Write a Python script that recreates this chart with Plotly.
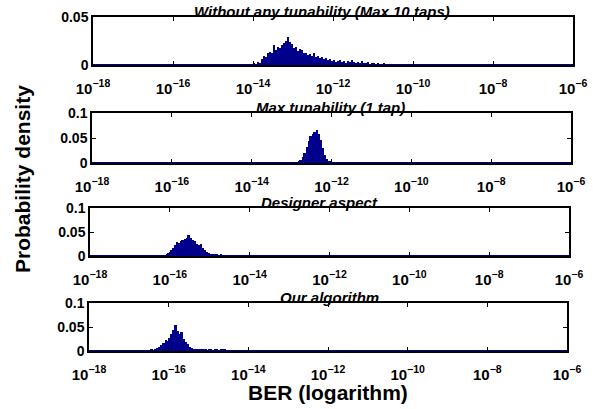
import plotly.graph_objects as go

W, H = 599, 409
BIN = 0.05  # bin width in decades of BER

# ---- data (log10 BER bin starts, densities) ----
p1_start = -14.20
p1_vals = [0.0005, 0.001, 0.0, 0.001, 0.002, 0.001, 0.003, 0.002, 0.006, 0.009,
           0.008, 0.013, 0.014, 0.012, 0.021, 0.016, 0.019, 0.018, 0.021, 0.023,
           0.025, 0.029, 0.024, 0.022, 0.018, 0.019, 0.015, 0.017, 0.016, 0.012,
           0.013, 0.010, 0.011, 0.009, 0.012, 0.008, 0.009, 0.007, 0.008, 0.006,
           0.007, 0.005, 0.006, 0.004, 0.005, 0.003, 0.004, 0.005, 0.003, 0.004,
           0.002, 0.004, 0.003, 0.005, 0.003, 0.002, 0.003, 0.002, 0.004, 0.002,
           0.002, 0.003, 0.001, 0.002, 0.002, 0.001, 0.002, 0.001, 0.001, 0.002,
           0.001, 0.001, 0.001]
p1_tail_exp = [-10.40, -10.25, -10.10, -9.90, -9.75, -9.55, -9.35, -9.10, -8.85,
               -8.60, -8.30, -8.05, -7.75, -7.45, -7.20]
p1_tail_val = [0.001, 0.0007, 0.001, 0.0007, 0.0006, 0.0006, 0.0005, 0.0006, 0.0005,
               0.0005, 0.0005, 0.0004, 0.0005, 0.0004, 0.0004]

p2_start = -12.90
p2_vals = [0.002, 0.003, 0.006, 0.012, 0.020, 0.032, 0.045, 0.055, 0.058, 0.062,
           0.066, 0.058, 0.046, 0.030, 0.016, 0.008, 0.004, 0.003, 0.001, 0.002,
           0.0, 0.001, 0.002]

p3_start = -16.10
p3_vals = [0.003, 0.006, 0.012, 0.016, 0.022, 0.030, 0.027, 0.032, 0.034, 0.036,
           0.038, 0.043, 0.037, 0.034, 0.031, 0.026, 0.022, 0.024, 0.016, 0.012,
           0.008, 0.006, 0.005, 0.004, 0.003, 0.004, 0.002, 0.003, 0.002, 0.001,
           0.002, 0.001, 0.001, 0.002, 0.001]
p3_tail_exp = [-14.00, -13.60]
p3_tail_val = [0.002, 0.0008]

p4_start = -16.50
p4_vals = [0.002, 0.003, 0.002, 0.004, 0.006, 0.008, 0.012, 0.016, 0.022, 0.020,
           0.027, 0.036, 0.044, 0.054, 0.042, 0.036, 0.040, 0.024, 0.018, 0.014,
           0.009, 0.007, 0.005, 0.004, 0.005, 0.003, 0.004, 0.003, 0.004, 0.002,
           0.003, 0.003, 0.002, 0.004, 0.003, 0.002, 0.003, 0.004, 0.003, 0.002,
           0.002, 0.001, 0.002, 0.002, 0.001, 0.002, 0.001, 0.001, 0.002, 0.001,
           0.001]
p4_tail_exp = [-13.80, -13.55, -13.30, -13.05, -12.80, -12.55, -12.30, -12.05,
               -11.80, -11.55, -11.30, -11.00, -10.70]
p4_tail_val = [0.0008, 0.001, 0.0006, 0.0008, 0.0006, 0.0007, 0.0005, 0.0006,
               0.0005, 0.0005, 0.0004, 0.0004, 0.0004]

titles = ["Without any tunability (Max 10 taps)", "Max tunability (1 tap)",
          "Designer aspect", "Our algorithm"]
y_max = [0.05, 0.1, 0.1, 0.1]
y_ticks = [[0, 0.05], [0, 0.05, 0.1], [0, 0.05, 0.1], [0, 0.05, 0.1]]
y_ticktext = [["0", "0.05"], ["0", "0.05", "0.1"], ["0", "0.05", "0.1"], ["0", "0.05", "0.1"]]
x_tickvals = [-18, -16, -14, -12, -10, -8, -6]
x_ticktext = ["10<sup>−18</sup>", "10<sup>−16</sup>", "10<sup>−14</sup>", "10<sup>−12</sup>",
              "10<sup>−10</sup>", "10<sup>−8</sup>", "10<sup>−6</sup>"]

panels = [
    (p1_start, p1_vals, p1_tail_exp, p1_tail_val),
    (p2_start, p2_vals, [], []),
    (p3_start, p3_vals, p3_tail_exp, p3_tail_val),
    (p4_start, p4_vals, p4_tail_exp, p4_tail_val),
]

# ---- layout geometry (pixels) ----
px_x = [(93, 573), (92, 571), (90, 569), (89, 567)]
px_y = [(17, 65), (113, 163), (208, 256), (303, 351)]
title_cx = [322, 330, 319, 329]

BAR = "#00008B"
FONT = "Liberation Sans, Arial, sans-serif"

fig = go.Figure()
layout = dict(
    template="none",
    width=W, height=H, margin=dict(l=0, r=0, t=0, b=0, pad=0),
    paper_bgcolor="white", plot_bgcolor="white", showlegend=False,
    bargap=0, font=dict(family=FONT, size=12, color="black"),
)
annotations = []
shapes = []
for i, (start, vals, texp, tval) in enumerate(panels):
    n = i + 1
    xa = "x" if n == 1 else f"x{n}"
    ya = "y" if n == 1 else f"y{n}"
    xs = [start + (k + 0.5) * BIN for k in range(len(vals))] + [e + BIN / 2 for e in texp]
    ys = list(vals) + list(tval)
    fig.add_trace(go.Bar(x=xs, y=ys, width=BIN, xaxis=xa, yaxis=ya,
                         marker=dict(color=BAR, line=dict(width=0))))
    x0, x1 = px_x[i]
    yt, yb = px_y[i]
    xdom = [x0 / W, x1 / W]
    ydom = [1 - yb / H, 1 - yt / H]
    xkey = "xaxis" if n == 1 else f"xaxis{n}"
    ykey = "yaxis" if n == 1 else f"yaxis{n}"
    layout[xkey] = dict(
        domain=xdom, anchor=ya, range=[-18, -6], tickmode="array", automargin=False,
        tickvals=x_tickvals, ticktext=x_ticktext, ticks="inside", ticklen=4,
        tickcolor="black", tickwidth=1, showline=True, linecolor="black",
        linewidth=1.5, mirror="ticks", showgrid=False, zeroline=False,
        ticklabelstandoff=9,
        tickfont=dict(family=FONT, size=15, weight="bold"),
    )
    layout[ykey] = dict(
        domain=ydom, anchor=xa, range=[0, y_max[i]], tickmode="array", automargin=False,
        tickvals=y_ticks[i], ticktext=y_ticktext[i], ticks="inside", ticklen=4,
        tickcolor="black", tickwidth=1, showline=True, linecolor="black",
        linewidth=1.5, mirror="ticks", showgrid=False, zeroline=False,
        tickfont=dict(family=FONT, size=14, weight="bold"),
    )
    shapes.append(dict(type="line", xref=xa, yref=ya, x0=-18, x1=-6, y0=0, y1=0,
                       line=dict(color=BAR, width=2)))
    annotations.append(dict(
        text=f"<b><i>{titles[i]}</i></b>", xref="paper", yref="paper",
        x=title_cx[i] / W, y=ydom[1], xanchor="center", yanchor="bottom",
        yshift=-5, showarrow=False, font=dict(family=FONT, size=15, color="black"),
    ))

annotations.append(dict(
    text="<b>Probability density</b>", xref="paper", yref="paper",
    x=23 / W, y=1 - 179 / H, xanchor="center", yanchor="middle", textangle=-90,
    showarrow=False, font=dict(family=FONT, size=21, color="black"),
))
annotations.append(dict(
    text="<b>BER (logarithm)</b>", xref="paper", yref="paper",
    x=328 / W, y=1 - 392 / H, xanchor="center", yanchor="middle",
    showarrow=False, font=dict(family=FONT, size=21, color="black"),
))
layout["annotations"] = annotations
layout["shapes"] = shapes
fig.update_layout(**layout)
fig.write_html("out.html", config={"displayModeBar": False},
               post_script="document.body.style.margin='0px';")
